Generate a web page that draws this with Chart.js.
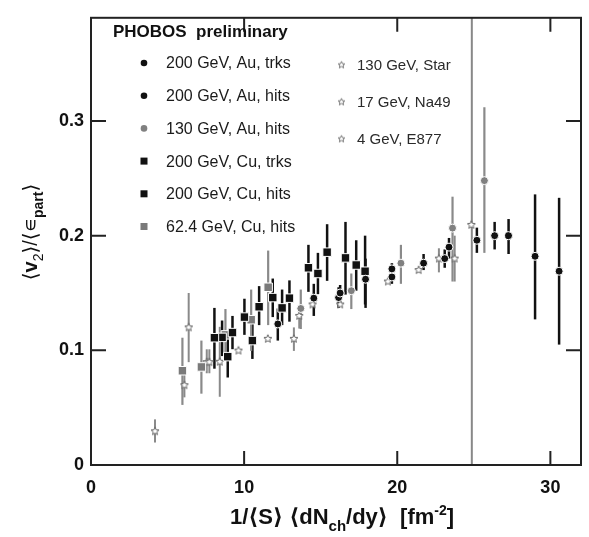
<!DOCTYPE html>
<html>
<head>
<meta charset="utf-8">
<script src="https://cdn.jsdelivr.net/npm/chart.js@4/dist/chart.umd.min.js"></script>
<style>
  html, body { margin: 0; padding: 0; background: #fff; }
</style>
</head>
<body>
<canvas id="chart" width="589" height="537"></canvas>
<script>
// values: x, y, lower and upper end of the error bar
const auTrksX  = [16.27, 19.65, 23.38, 26.36, 29.0];
const auTrksY  = [0.150, 0.171, 0.190, 0.200, 0.182];
const auTrksLo = [0.140, 0.165, 0.180, 0.188, 0.127];
const auTrksHi = [0.157, 0.176, 0.198, 0.212, 0.236];

const auHitsX  = [12.2, 14.55, 16.17, 17.93, 19.65, 21.72, 23.1, 25.2, 27.27, 30.57];
const auHitsY  = [0.123, 0.1455, 0.146, 0.162, 0.164, 0.176, 0.180, 0.196, 0.200, 0.169];
const auHitsLo = [0.1085, 0.130, 0.137, 0.137, 0.158, 0.170, 0.172, 0.185, 0.184, 0.105];
const auHitsHi = [0.1365, 0.158, 0.155, 0.180, 0.170, 0.184, 0.188, 0.207, 0.2145, 0.233];

const au130X  = [13.7, 17.0, 20.24, 23.61, 25.69];
const au130Y  = [0.1365, 0.152, 0.176, 0.2066, 0.248];
const au130Lo = [0.1186, 0.136, 0.158, 0.160, 0.185];
const au130Hi = [0.153, 0.167, 0.192, 0.234, 0.312];

const cuTrksX  = [8.06, 9.24, 10.02, 10.98, 12.48, 14.2, 15.42, 17.32];
const cuTrksY  = [0.111, 0.1155, 0.129, 0.138, 0.137, 0.172, 0.1856, 0.1744];
const cuTrksLo = [0.084, 0.101, 0.1135, 0.122, 0.122, 0.151, 0.1606, 0.152];
const cuTrksHi = [0.137, 0.130, 0.145, 0.156, 0.153, 0.192, 0.210, 0.196];

const cuHitsX  = [8.56, 8.93, 10.54, 11.87, 12.96, 14.82, 16.62, 17.9];
const cuHitsY  = [0.1113, 0.0945, 0.1085, 0.146, 0.1455, 0.167, 0.1806, 0.169];
const cuHitsLo = [0.095, 0.0763, 0.0925, 0.129, 0.125, 0.149, 0.1486, 0.140];
const cuHitsHi = [0.126, 0.1163, 0.1247, 0.1626, 0.161, 0.185, 0.212, 0.200];

const cu62X  = [5.97, 7.21, 8.78, 10.46, 11.57];
const cu62Y  = [0.0822, 0.0855, 0.1135, 0.1267, 0.155];
const cu62Lo = [0.0524, 0.0622, 0.091, 0.0995, 0.122];
const cu62Hi = [0.111, 0.1085, 0.136, 0.153, 0.187];

const starX  = [13.25, 13.6, 14.47, 16.27, 19.39, 21.4, 22.72, 23.75, 24.84];
const starY  = [0.110, 0.130, 0.140, 0.140, 0.160, 0.170, 0.180, 0.180, 0.2094];
const starLo = [0.0995, 0.119, 0.140, 0.140, 0.160, 0.170, 0.168, 0.160, 0.2094];
const starHi = [0.120, 0.1346, 0.140, 0.140, 0.160, 0.170, 0.189, 0.200, 0.2094];

const na49X  = [6.1, 6.38, 7.56, 7.73, 8.41, 9.63, 11.55];
const na49Y  = [0.0696, 0.120, 0.0897, 0.0897, 0.090, 0.0998, 0.110];
const na49Lo = [0.059, 0.0897, 0.080, 0.080, 0.0595, 0.0998, 0.110];
const na49Hi = [0.080, 0.150, 0.1009, 0.1009, 0.1205, 0.0998, 0.110];

const e877X  = [4.18];
const e877Y  = [0.0294];
const e877Lo = [0.0196];
const e877Hi = [0.0398];

const xTicks = [0, 10, 20, 30];
const yTicks = [0, 0.1, 0.2, 0.3];
const refLineX = 24.87;

const BLACK = '#111';
const GREY = '#808080';
const FONT = "'Liberation Sans', Arial, 'DejaVu Sans', sans-serif";

function points(xs, ys, lo, hi) {
  return xs.map((x, i) => ({ x: x, y: ys[i], lo: lo[i], hi: hi[i] }));
}

function makeStar(r, color) {
  const c = document.createElement('canvas');
  const s = Math.ceil(r * 2 + 3);
  c.width = s; c.height = s;
  const g = c.getContext('2d');
  g.beginPath();
  for (let i = 0; i < 10; i++) {
    const a = -Math.PI / 2 + i * Math.PI / 5;
    const rr = i % 2 ? r * 0.45 : r;
    g.lineTo(s / 2 + rr * Math.cos(a), s / 2 + rr * Math.sin(a));
  }
  g.closePath();
  g.fillStyle = '#fff';
  g.fill();
  g.strokeStyle = color;
  g.lineWidth = 1;
  g.stroke();
  return c;
}
const starImg = makeStar(4.2, '#666');
const starLegendImg = makeStar(3.6, '#777');

function series(label, xs, ys, lo, hi, style, color, radius, barColor, barWidth, col, row) {
  return {
    label: label,
    data: points(xs, ys, lo, hi),
    pointStyle: style,
    backgroundColor: color,
    borderColor: '#fff',
    borderWidth: style === 'star' ? 0 : 1,
    pointRadius: radius,
    barColor: barColor,
    barWidth: barWidth,
    legendCol: col,
    legendRow: row
  };
}

const datasets = [
  series('200 GeV, Au, trks', auTrksX, auTrksY, auTrksLo, auTrksHi, 'circle', BLACK, 4, BLACK, 2.5, 0, 0),
  series('200 GeV, Au, hits', auHitsX, auHitsY, auHitsLo, auHitsHi, 'circle', BLACK, 4, BLACK, 2.5, 0, 1),
  series('130 GeV, Au, hits', au130X, au130Y, au130Lo, au130Hi, 'circle', GREY, 4, '#8a8a8a', 2.2, 0, 2),
  series('200 GeV, Cu, trks', cuTrksX, cuTrksY, cuTrksLo, cuTrksHi, 'rect', BLACK, 6, BLACK, 2.5, 0, 3),
  series('200 GeV, Cu, hits', cuHitsX, cuHitsY, cuHitsLo, cuHitsHi, 'rect', BLACK, 6, BLACK, 2.5, 0, 4),
  series('62.4 GeV, Cu, hits', cu62X, cu62Y, cu62Lo, cu62Hi, 'rect', '#7a7a7a', 6, '#8a8a8a', 2.2, 0, 5),
  series('130 GeV, Star', starX, starY, starLo, starHi, 'star', '#666', 5, '#8a8a8a', 2, 1, 0),
  series('17 GeV, Na49', na49X, na49Y, na49Lo, na49Hi, 'star', '#666', 5, '#8a8a8a', 2, 1, 1),
  series('4 GeV, E877', e877X, e877Y, e877Lo, e877Hi, 'star', '#666', 5, '#8a8a8a', 2, 1, 2)
];
datasets.forEach(d => { if (d.pointStyle === 'star') d.pointStyle = starImg; });

// draws a run of text pieces with their own font and vertical offset
function drawRich(ctx, parts, x, y) {
  let w = 0;
  parts.forEach(p => { ctx.font = p.font; w += ctx.measureText(p.t).width; });
  let cx = x - w / 2;
  ctx.textAlign = 'left';
  ctx.textBaseline = 'alphabetic';
  parts.forEach(p => {
    ctx.font = p.font;
    ctx.fillText(p.t, cx, y + (p.dy || 0));
    cx += ctx.measureText(p.t).width;
  });
}

const errorBars = {
  id: 'errorBars',
  beforeDatasetsDraw(chart) {
    const { ctx, chartArea, scales: { x, y } } = chart;
    ctx.save();
    const lx = x.getPixelForValue(refLineX);
    ctx.strokeStyle = '#888';
    ctx.lineWidth = 2;
    ctx.beginPath();
    ctx.moveTo(lx, chartArea.top);
    ctx.lineTo(lx, chartArea.bottom);
    ctx.stroke();
    chart.data.datasets.forEach(ds => {
      ctx.strokeStyle = ds.barColor;
      ctx.lineWidth = ds.barWidth;
      ds.data.forEach(p => {
        if (p.hi - p.lo <= 0) return;
        const px = x.getPixelForValue(p.x);
        ctx.beginPath();
        ctx.moveTo(px, y.getPixelForValue(p.lo));
        ctx.lineTo(px, y.getPixelForValue(p.hi));
        ctx.stroke();
      });
    });
    ctx.restore();
  }
};

const frame = {
  id: 'frame',
  afterDraw(chart) {
    const { ctx, chartArea: a, scales: { x, y } } = chart;
    ctx.save();
    ctx.strokeStyle = '#222';
    ctx.lineWidth = 2;
    ctx.strokeRect(a.left, a.top, a.right - a.left, a.bottom - a.top);
    const tl = 14;
    ctx.beginPath();
    yTicks.slice(1).forEach(v => {
      const py = y.getPixelForValue(v);
      ctx.moveTo(a.left, py); ctx.lineTo(a.left + tl + 1, py);
      ctx.moveTo(a.right, py); ctx.lineTo(a.right - tl - 1, py);
    });
    xTicks.slice(1).forEach(v => {
      const px = x.getPixelForValue(v);
      ctx.moveTo(px, a.bottom); ctx.lineTo(px, a.bottom - tl);
      ctx.moveTo(px, a.top); ctx.lineTo(px, a.top + tl);
    });
    ctx.stroke();

    // legend
    ctx.fillStyle = '#111';
    ctx.font = 'bold 17px ' + FONT;
    ctx.textAlign = 'left';
    ctx.textBaseline = 'middle';
    ctx.fillText('PHOBOS  preliminary', 113, 32);
    chart.data.datasets.forEach(ds => {
      const left = ds.legendCol === 0;
      const mx = left ? 144 : 341.5;
      const tx = left ? 166 : 357;
      const my = left ? 63 + ds.legendRow * 32.7 : 65 + ds.legendRow * 37;
      if (ds.pointStyle === 'circle') {
        ctx.fillStyle = ds.backgroundColor;
        ctx.beginPath(); ctx.arc(mx, my, 3.3, 0, Math.PI * 2); ctx.fill();
      } else if (ds.pointStyle === 'rect') {
        ctx.fillStyle = ds.backgroundColor;
        ctx.fillRect(mx - 3.5, my - 3.5, 7, 7);
      } else {
        ctx.drawImage(starLegendImg, mx - starLegendImg.width / 2, my - starLegendImg.height / 2);
      }
      ctx.fillStyle = left ? '#1a1a1a' : '#2a2a2a';
      ctx.font = (left ? '16px ' : '15px ') + FONT;
      ctx.textBaseline = 'middle';
      ctx.fillText(ds.label, tx, my + 1);
    });

    // axis titles
    ctx.fillStyle = '#111';
    const B = 'bold 22px ' + FONT, BS = 'bold 15px ' + FONT, BU = 'bold 14px ' + FONT;
    drawRich(ctx, [
      { t: '1/⟨S⟩ ⟨dN', font: B },
      { t: 'ch', font: BS, dy: 7 },
      { t: '/dy⟩  [fm', font: B },
      { t: '-2', font: BU, dy: -9 },
      { t: ']', font: B }
    ], 342, 524);

    ctx.save();
    ctx.translate(37, 232);
    ctx.rotate(-Math.PI / 2);
    const N = '20px ' + FONT, NB = 'bold 20px ' + FONT, S = '14px ' + FONT, SB = 'bold 14px ' + FONT;
    drawRich(ctx, [
      { t: '⟨', font: N },
      { t: 'v', font: NB },
      { t: '2', font: S, dy: 6 },
      { t: '⟩/⟨∊', font: N },
      { t: 'part', font: SB, dy: 6 },
      { t: '⟩', font: N }
    ], 0, 0);
    ctx.restore();
    ctx.restore();
  }
};

function tickLabel(step) {
  return function (v) {
    const r = Math.round(v / step) * step;
    if (Math.abs(v - r) > 1e-9) return '';
    return step < 1 ? (r === 0 ? '0' : r.toFixed(1)) : String(r);
  };
}

new Chart(document.getElementById('chart').getContext('2d'), {
  type: 'scatter',
  data: { datasets: datasets },
  options: {
    responsive: false,
    animation: false,
    layout: { padding: { top: 1, right: 8, left: 0, bottom: 0 } },
    plugins: { legend: { display: false }, tooltip: { enabled: false } },
    scales: {
      x: {
        type: 'linear',
        min: 0, max: 32,
        grid: { display: false, drawTicks: false },
        border: { display: false },
        ticks: {
          stepSize: 10, includeBounds: false, padding: 12, maxRotation: 0, autoSkip: false,
          color: '#111', font: { family: FONT, size: 18, weight: 'bold' },
          callback: tickLabel(10)
        },
        afterFit(s) { s.height = 72; }
      },
      y: {
        min: 0, max: 0.39,
        grid: { display: false, drawTicks: false },
        border: { display: false },
        ticks: {
          stepSize: 0.1, includeBounds: false, padding: 7, autoSkip: false,
          color: '#111', font: { family: FONT, size: 18, weight: 'bold' },
          callback: tickLabel(0.1)
        },
        afterFit(s) { s.width = 91; }
      }
    }
  },
  plugins: [errorBars, frame]
});
</script>
</body>
</html>
